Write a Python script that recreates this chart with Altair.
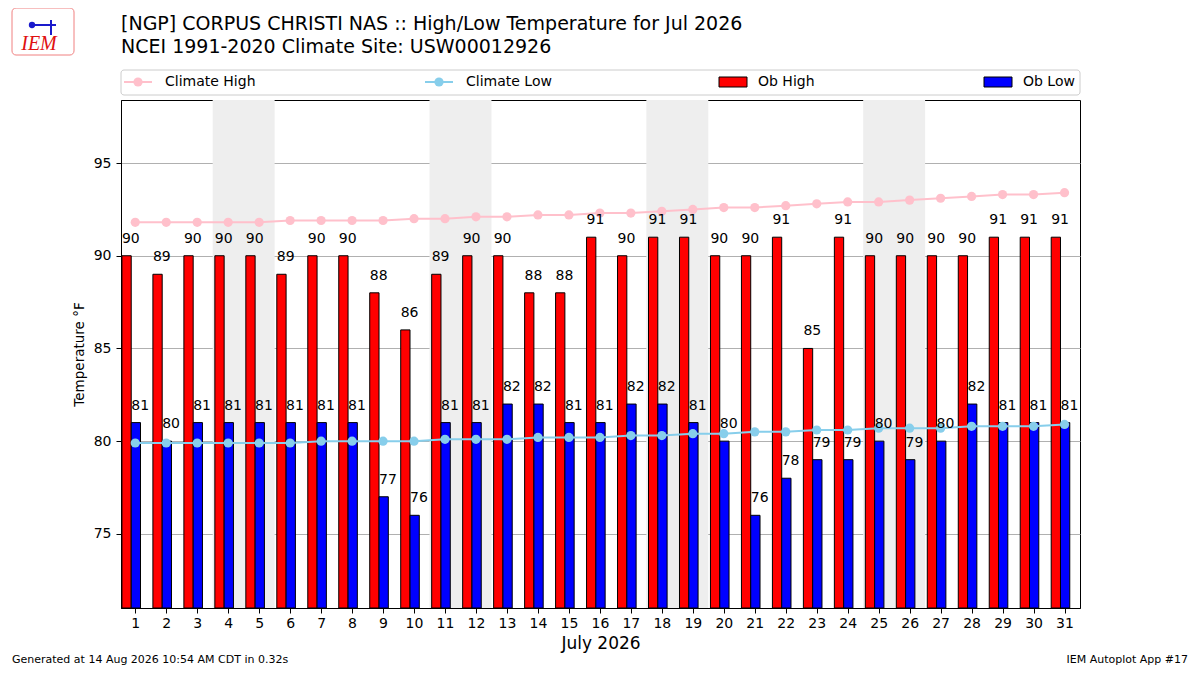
import altair as alt
import pandas as pd

# July 2026 observations, NGP Corpus Christi NAS
days = list(range(1, 32))
ob_high = [90, 89, 90, 90, 90, 89, 90, 90, 88, 86, 89, 90, 90, 88, 88, 91,
           90, 91, 91, 90, 90, 91, 85, 91, 90, 90, 90, 90, 91, 91, 91]
ob_low = [81, 80, 81, 81, 81, 81, 81, 81, 77, 76, 81, 81, 82, 82, 81, 81,
          82, 82, 81, 80, 76, 78, 79, 79, 80, 79, 80, 82, 81, 81, 81]
clim_high = [91.8, 91.8, 91.8, 91.8, 91.8, 91.9, 91.9, 91.9, 91.9, 92.0, 92.0,
             92.1, 92.1, 92.2, 92.2, 92.3, 92.3, 92.4, 92.5, 92.6, 92.6, 92.7,
             92.8, 92.9, 92.9, 93.0, 93.1, 93.2, 93.3, 93.3, 93.4]
clim_low = [79.9, 79.9, 79.9, 79.9, 79.9, 79.9, 80.0, 80.0, 80.0, 80.0, 80.1,
            80.1, 80.1, 80.2, 80.2, 80.2, 80.3, 80.3, 80.4, 80.4, 80.5, 80.5,
            80.6, 80.6, 80.7, 80.7, 80.7, 80.8, 80.8, 80.8, 80.9]
weekend_start = [4, 11, 18, 25]  # saturdays

W, H = 959, 508
FONT = "DejaVu Sans"

df = pd.DataFrame({
    "day": days, "high": ob_high, "low": ob_low,
    "chigh": clim_high, "clow": clim_low,
})
df["hx0"] = df["day"] - 0.43
df["hx1"] = df["day"] - 0.13
df["lx1"] = df["day"] + 0.17

wk = pd.DataFrame({"s": [d - 0.5 for d in weekend_start],
                   "e": [d + 1.5 for d in weekend_start]})

xscale = alt.Scale(domain=[0.54, 31.5], nice=False, zero=False)
yscale = alt.Scale(domain=[71, 98.4], nice=False, zero=False)

x_axis = alt.Axis(values=days, format="d", grid=False, title="July 2026",
                  titleFontSize=17, titleFont=FONT, titleFontWeight="normal",
                  titlePadding=5, labelFontSize=14, labelPadding=3, tickSize=5,
                  labelOverlap=False)
y_axis = alt.Axis(values=[75, 80, 85, 90, 95], grid=True, gridColor="#b0b0b0",
                  gridWidth=1, title="Temperature °F", titleFontSize=13.5,
                  titleFont=FONT, titleFontWeight="normal", titlePadding=7,
                  labelFontSize=14, labelPadding=5, tickSize=5)

base = alt.Chart(df)

shade = alt.Chart(wk).mark_rect(color="#eeeeee").encode(
    x=alt.X("s:Q", scale=xscale, axis=x_axis), x2="e:Q",
    y=alt.value(0), y2=alt.value(H))

hbar = base.mark_rect(color="#ff0000", stroke="black", strokeWidth=1).encode(
    x=alt.X("hx0:Q", scale=xscale, axis=x_axis), x2="hx1:Q",
    y=alt.Y("high:Q", scale=yscale, axis=y_axis), y2=alt.datum(71))
lbar = base.mark_rect(color="#0000ff", stroke="black", strokeWidth=1).encode(
    x=alt.X("hx1:Q", scale=xscale, axis=x_axis), x2="lx1:Q",
    y=alt.Y("low:Q", scale=yscale, axis=y_axis), y2=alt.datum(71))


def clim(field, color):
    enc = dict(x=alt.X("day:Q", scale=xscale, axis=x_axis),
               y=alt.Y(f"{field}:Q", scale=yscale, axis=y_axis))
    return (base.mark_line(color=color, strokeWidth=2).encode(**enc)
            + base.mark_circle(color=color, size=85, opacity=1).encode(**enc))


def labels(xfield, field):
    return base.mark_text(align="left", baseline="alphabetic", dy=-13,
                          fontSize=14, font=FONT, color="black").encode(
        x=alt.X(f"{xfield}:Q", scale=xscale, axis=x_axis),
        y=alt.Y(f"{field}:Q", scale=yscale, axis=y_axis),
        text=f"{field}:Q")


one = alt.Chart(pd.DataFrame({"a": [0]}))


def txt(s, x, y, size, align="left", **kw):
    return one.mark_text(text=s, align=align, baseline="middle", fontSize=size,
                         font=kw.pop("font", FONT), color=kw.pop("color", "black"),
                         **kw).encode(x=alt.value(x), y=alt.value(y))


# legend box above the plot (matplotlib style, 4 columns in expand mode)
legend = [one.mark_rect(fill="white", stroke="#cccccc", cornerRadius=3).encode(
    x=alt.value(0), x2=alt.value(W), y=alt.value(-30), y2=alt.value(-5))]
for lx, col, lab in [(3, "#ffc0cb", "Climate High"), (304, "#87ceeb", "Climate Low")]:
    legend.append(one.mark_rule(color=col, strokeWidth=2).encode(
        x=alt.value(lx), x2=alt.value(lx + 28), y=alt.value(-18)))
    legend.append(one.mark_circle(color=col, size=85, opacity=1).encode(
        x=alt.value(lx + 14), y=alt.value(-18)))
    legend.append(txt(lab, lx + 41, -18, 14))
for lx, col, lab in [(598, "#ff0000", "Ob High"), (863, "#0000ff", "Ob Low")]:
    legend.append(one.mark_rect(color=col, stroke="black", strokeWidth=1).encode(
        x=alt.value(lx), x2=alt.value(lx + 28), y=alt.value(-23), y2=alt.value(-13)))
    legend.append(txt(lab, lx + 39, -18, 14))

titles = [
    txt("[NGP] CORPUS CHRISTI NAS :: High/Low Temperature for Jul 2026", 0, -76, 19),
    txt("NCEI 1991-2020 Climate Site: USW00012926", 0, -53, 19),
    txt("Generated at 14 Aug 2026 10:54 AM CDT in 0.32s", -109, 560, 11),
    txt("IEM Autoplot App #17", 1067, 560, 11, align="right"),
]

# rough stand-in for the IEM logo
logo = [
    one.mark_rect(fill="white", stroke="#f08080", strokeWidth=1, cornerRadius=4).encode(
        x=alt.value(-109), x2=alt.value(-47), y=alt.value(-92), y2=alt.value(-45)),
    txt("IEM", -82, -56, 20, align="center", font="Liberation Serif",
        color="#e01010", fontStyle="italic"),
    one.mark_rule(color="#1a1acc", strokeWidth=2).encode(
        x=alt.value(-90), x2=alt.value(-65), y=alt.value(-75)),
    one.mark_circle(color="#1a1acc", size=40, opacity=1).encode(
        x=alt.value(-89), y=alt.value(-75)),
    one.mark_rule(color="#1a1acc", strokeWidth=2).encode(
        x=alt.value(-70), y=alt.value(-80), y2=alt.value(-65)),
]

chart = alt.layer(
    shade, hbar, lbar, clim("chigh", "#ffc0cb"), clim("clow", "#87ceeb"),
    labels("hx0", "high"), labels("hx1", "low"), *legend, *titles, *logo,
).properties(
    width=W, height=H,
    autosize=alt.AutoSizeParams(type="none"),
    padding={"left": 113, "top": 92, "right": 112, "bottom": 59},
).configure_view(
    stroke="black", strokeWidth=1, clip=False,
).configure_axis(
    labelFont=FONT, labelColor="black", tickColor="black", domainColor="black",
    titleColor="black",
).configure_axisX(
    labelOverlap=False,
)

chart.save("out.html", embed_options={"renderer": "svg", "actions": False})
